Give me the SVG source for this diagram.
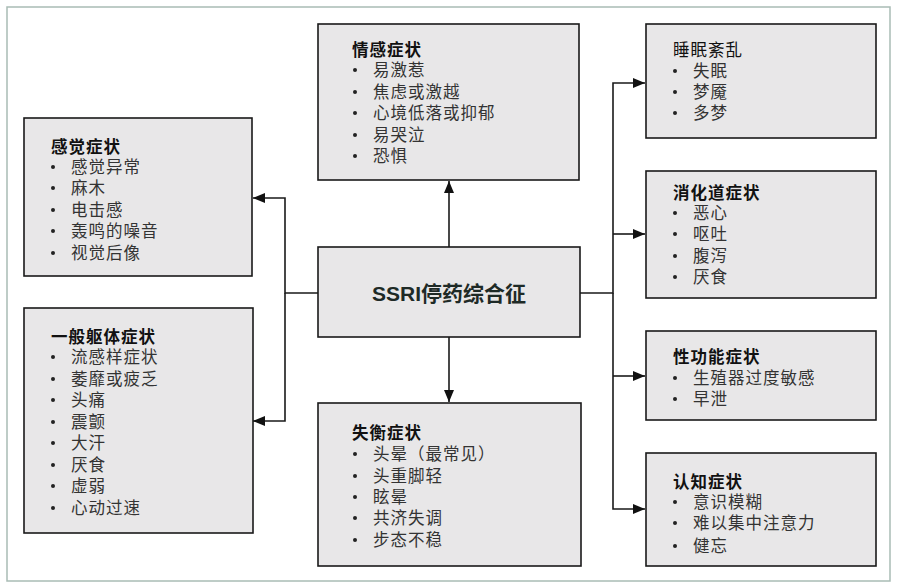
<svg xmlns="http://www.w3.org/2000/svg" width="899" height="587" viewBox="0 0 899 587">
<style>
.box{fill:#e8e7e8;stroke:#1a1a1a;stroke-width:1.6}
.t{font-family:"Noto Sans CJK SC","Liberation Sans",sans-serif;font-size:16.5px;letter-spacing:1px;font-weight:bold;fill:#111}
.tn{font-family:"Noto Sans CJK SC","Liberation Sans",sans-serif;font-size:16.5px;letter-spacing:1px;fill:#111}
.i{font-family:"Noto Sans CJK SC","Liberation Sans",sans-serif;font-size:16.5px;letter-spacing:1px;fill:#333}
.b{fill:#222}
.main{font-family:"Liberation Sans","Noto Sans CJK SC",sans-serif;font-size:21px;font-weight:bold;fill:#1e2a26}
.ln{fill:none;stroke:#1a1a1a;stroke-width:1.6}
</style>
<defs>
<marker id="ah" viewBox="0 0 12 10" refX="12" refY="5" markerWidth="12" markerHeight="10" markerUnits="userSpaceOnUse" orient="auto">
<path d="M0,0 L12,5 L0,10 Z" fill="#111"/>
</marker>
</defs>
<rect x="7" y="7" width="883" height="574" fill="#fff" stroke="#a9bcb5" stroke-width="1.5"/>
<g id="connectors">
<path class="ln" d="M318,293 H285 V198 H253" marker-end="url(#ah)"/>
<path class="ln" d="M285,293 V421 H253" marker-end="url(#ah)"/>
<path class="ln" d="M449,247 V181" marker-end="url(#ah)"/>
<path class="ln" d="M449,337 V402" marker-end="url(#ah)"/>
<path class="ln" d="M580,293 H613 V83 H645" marker-end="url(#ah)"/>
<path class="ln" d="M613,234 H645" marker-end="url(#ah)"/>
<path class="ln" d="M613,293 V509 H645" marker-end="url(#ah)"/>
<path class="ln" d="M613,376 H645" marker-end="url(#ah)"/>
</g>
<g id="center">
<rect class="box" x="318" y="247" width="262" height="90"/>
<text class="main" x="449" y="301" text-anchor="middle">SSRI停药综合征</text>
</g>
<g id="sensory">
<rect class="box" x="24" y="118" width="228" height="158"/>
<text class="t" x="51" y="153">感觉症状</text>
<g class="i"><text x="71" y="173">感觉异常</text><text x="71" y="194">麻木</text><text x="71" y="216">电击感</text><text x="71" y="237">轰鸣的噪音</text><text x="71" y="259">视觉后像</text></g>
<g class="b"><circle cx="53" cy="167" r="2"/><circle cx="53" cy="188" r="2"/><circle cx="53" cy="210" r="2"/><circle cx="53" cy="231" r="2"/><circle cx="53" cy="253" r="2"/></g>
</g>
<g id="somatic">
<rect class="box" x="24" y="308" width="229" height="225"/>
<text class="t" x="51" y="343">一般躯体症状</text>
<g class="i"><text x="71" y="363">流感样症状</text><text x="71" y="385">萎靡或疲乏</text><text x="71" y="406">头痛</text><text x="71" y="428">震颤</text><text x="71" y="449">大汗</text><text x="71" y="471">厌食</text><text x="71" y="492">虚弱</text><text x="71" y="514">心动过速</text></g>
<g class="b"><circle cx="53" cy="357" r="2"/><circle cx="53" cy="379" r="2"/><circle cx="53" cy="400" r="2"/><circle cx="53" cy="422" r="2"/><circle cx="53" cy="443" r="2"/><circle cx="53" cy="465" r="2"/><circle cx="53" cy="486" r="2"/><circle cx="53" cy="508" r="2"/></g>
</g>
<g id="affective">
<rect class="box" x="318" y="24" width="261" height="156"/>
<text class="t" x="352" y="56">情感症状</text>
<g class="i"><text x="373" y="76">易激惹</text><text x="373" y="98">焦虑或激越</text><text x="373" y="119">心境低落或抑郁</text><text x="373" y="141">易哭泣</text><text x="373" y="162">恐惧</text></g>
<g class="b"><circle cx="355" cy="70" r="2"/><circle cx="355" cy="92" r="2"/><circle cx="355" cy="113" r="2"/><circle cx="355" cy="135" r="2"/><circle cx="355" cy="156" r="2"/></g>
</g>
<g id="balance">
<rect class="box" x="318" y="403" width="263" height="163"/>
<text class="t" x="352" y="439">失衡症状</text>
<g class="i"><text x="373" y="460">头晕（最常见）</text><text x="373" y="482">头重脚轻</text><text x="373" y="503">眩晕</text><text x="373" y="524">共济失调</text><text x="373" y="546">步态不稳</text></g>
<g class="b"><circle cx="355" cy="454" r="2"/><circle cx="355" cy="476" r="2"/><circle cx="355" cy="497" r="2"/><circle cx="355" cy="518" r="2"/><circle cx="355" cy="540" r="2"/></g>
</g>
<g id="sleep">
<rect class="box" x="646" y="24" width="230" height="114"/>
<text class="tn" x="673" y="56">睡眠紊乱</text>
<g class="i"><text x="693" y="77">失眠</text><text x="693" y="98">梦魇</text><text x="693" y="119">多梦</text></g>
<g class="b"><circle cx="675" cy="71" r="2"/><circle cx="675" cy="92" r="2"/><circle cx="675" cy="113" r="2"/></g>
</g>
<g id="digestive">
<rect class="box" x="646" y="171" width="230" height="127"/>
<text class="t" x="673" y="199">消化道症状</text>
<g class="i"><text x="693" y="219">恶心</text><text x="693" y="240">呕吐</text><text x="693" y="262">腹泻</text><text x="693" y="283">厌食</text></g>
<g class="b"><circle cx="675" cy="213" r="2"/><circle cx="675" cy="234" r="2"/><circle cx="675" cy="256" r="2"/><circle cx="675" cy="277" r="2"/></g>
</g>
<g id="sexual">
<rect class="box" x="646" y="331" width="230" height="89"/>
<text class="t" x="673" y="363">性功能症状</text>
<g class="i"><text x="693" y="384">生殖器过度敏感</text><text x="693" y="405">早泄</text></g>
<g class="b"><circle cx="675" cy="378" r="2"/><circle cx="675" cy="399" r="2"/></g>
</g>
<g id="cognitive">
<rect class="box" x="646" y="453" width="230" height="113"/>
<text class="t" x="673" y="488">认知症状</text>
<g class="i"><text x="693" y="508">意识模糊</text><text x="693" y="529">难以集中注意力</text><text x="693" y="552">健忘</text></g>
<g class="b"><circle cx="675" cy="502" r="2"/><circle cx="675" cy="523" r="2"/><circle cx="675" cy="546" r="2"/></g>
</g>
</svg>
